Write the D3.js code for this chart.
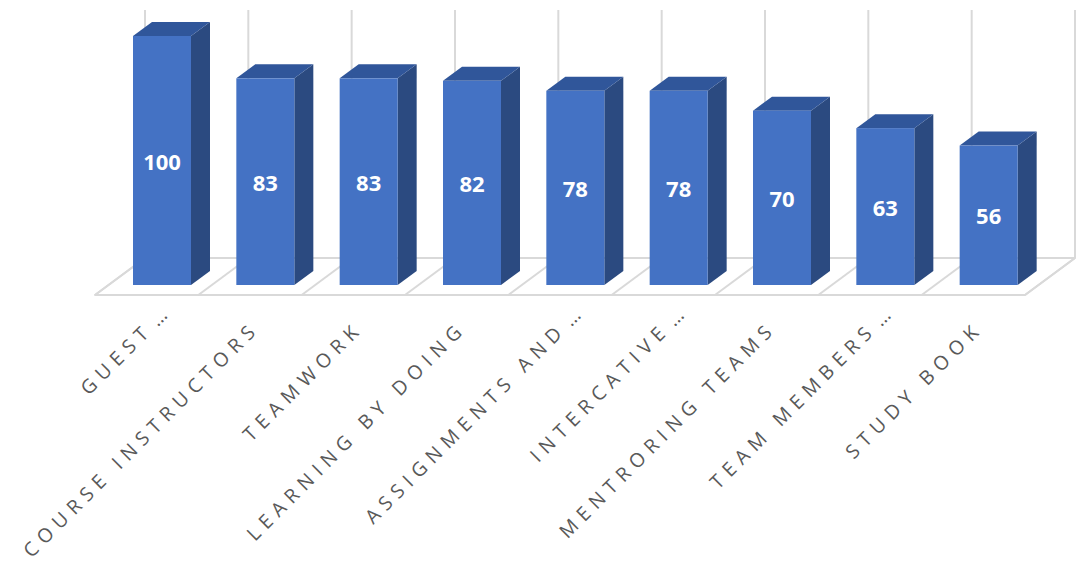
<!DOCTYPE html>
<html><head><meta charset="utf-8">
<script src="https://cdn.jsdelivr.net/npm/d3@7"></script>
<style>html,body{margin:0;padding:0;background:#fff;}svg{display:block;}</style>
</head><body>
<svg id="chart" width="1089" height="562"></svg>
<script>
const categories = ["GUEST …","COURSE INSTRUCTORS","TEAMWORK","LEARNING BY DOING","ASSIGNMENTS AND …","INTERCATIVE …","MENTRORING TEAMS","TEAM MEMBERS …","STUDY BOOK"];
const values = [100,83,83,82,78,78,70,63,56];

const svg = d3.select("#chart");

// layout
const floorFrontY = 295, floorBackY = 258, floorDepthDx = 50;
const x = d3.scaleBand().domain(categories).range([95, 1025]).padding(0);
const y = d3.scaleLinear().domain([0, 100]).range([285, 36]);
const barW = 58, frontOff = 38, sideDx = 19, sideDy = -14;
const grid = "#d9d9d9";
const ls = 6.4;

// back wall vertical gridlines
const bounds = d3.range(categories.length + 1).map(i => 95 + i * x.step());
svg.append("g").selectAll("line").data(bounds).join("line")
  .attr("x1", d => d + floorDepthDx).attr("x2", d => d + floorDepthDx)
  .attr("y1", 10).attr("y2", floorBackY)
  .attr("stroke", grid).attr("stroke-width", 2);

// floor
svg.append("polygon")
  .attr("points", [[95, floorFrontY],[1025, floorFrontY],[1025 + floorDepthDx, floorBackY],[95 + floorDepthDx, floorBackY]].map(p => p.join(",")).join(" "))
  .attr("fill", "#fff").attr("stroke", grid).attr("stroke-width", 2).attr("stroke-linejoin","round");
svg.append("g").selectAll("line").data(bounds).join("line")
  .attr("x1", d => d).attr("y1", floorFrontY)
  .attr("x2", d => d + floorDepthDx).attr("y2", floorBackY)
  .attr("stroke", grid).attr("stroke-width", 2);

// bars
const bars = svg.append("g").selectAll("g").data(categories.map((c, i) => ({c, v: values[i]}))).join("g");
bars.each(function(d) {
  const g = d3.select(this);
  const x0 = x(d.c) + frontOff, x1 = x0 + barW;
  const yt = y(d.v), yb = y(0);
  g.append("polygon").attr("points", [[x1, yt],[x1 + sideDx, yt + sideDy],[x1 + sideDx, yb + sideDy],[x1, yb]].map(p => p.join(",")).join(" "))
    .attr("fill", "#2b4a80");
  g.append("polygon").attr("points", [[x0, yt],[x0 + sideDx, yt + sideDy],[x1 + sideDx, yt + sideDy],[x1, yt]].map(p => p.join(",")).join(" "))
    .attr("fill", "#30569a");
  g.append("rect").attr("x", x0).attr("y", yt).attr("width", barW).attr("height", yb - yt)
    .attr("fill", "#4472c4");
  g.append("text").attr("x", x0 + barW / 2).attr("y", (yt + yb) / 2)
    .attr("text-anchor", "middle").attr("dominant-baseline", "central")
    .attr("fill", "#fff").attr("font-family", "'Open Sans', sans-serif")
    .attr("font-weight", "bold").attr("font-size", 22).text(d.v);
});

// category labels
const lab = svg.append("g").selectAll("text").data(categories).join("text")
  .attr("transform", d => {
    const cx = x(d) + frontOff + barW / 2;
    const trunc = d.endsWith("…");
    const ax = trunc ? cx + 2 : cx - 9;
    const ay = trunc ? 321 : 334;
    const k = ls * Math.SQRT1_2;
    return `translate(${ax + k},${ay - k}) rotate(-45)`;
  })
  .attr("text-anchor", "end")
  .attr("fill", "#595959").attr("font-family", "'Open Sans', sans-serif")
  .attr("font-size", 19.5).attr("letter-spacing", ls + "px");
lab.each(function(d) {
  const t = d3.select(this);
  if (d.endsWith("…")) {
    t.append("tspan").text(d.slice(0, -2));
    t.append("tspan").attr("letter-spacing", "0px").text(" …");
  } else {
    t.text(d);
  }
});
</script>
</body></html>
